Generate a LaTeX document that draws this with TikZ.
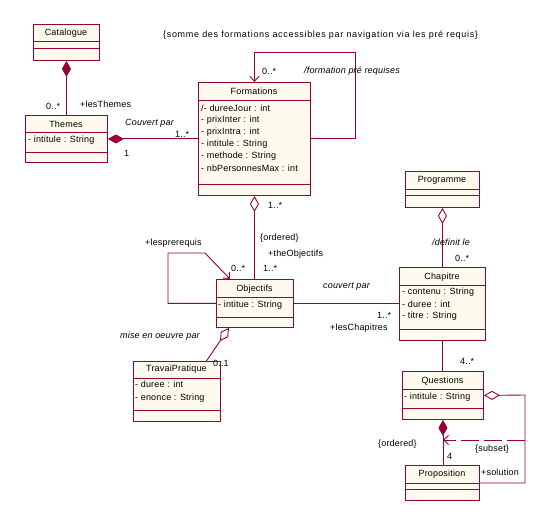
\documentclass[tikz,border=0pt]{standalone}
\usepackage{fontspec}
\setmainfont{Liberation Sans}[LetterSpace=2.0]
\usetikzlibrary{arrows.meta}
\definecolor{umlline}{RGB}{153,0,51}
\definecolor{umlfill}{RGB}{255,250,238}
\begin{document}
\begin{tikzpicture}[x=1pt,y=-1pt,
  font=\fontsize{9}{10}\selectfont,
  cls/.style={draw=umlline, fill=umlfill, line width=0.9pt, inner sep=0pt, anchor=north west},
  lbl/.style={inner sep=0pt, anchor=west, text=black},
  ttl/.style={inner sep=0pt, anchor=center, text=black},
  conn/.style={draw=umlline, line width=0.9pt},
  compo/.style={conn, {Diamond[length=16pt,width=9pt,fill=umlline]}-},
  aggr/.style={conn, {Diamond[open,length=16pt,width=9pt]}-},
  nav/.style={conn, -{Straight Barb[length=5pt,width=9pt]}},
  dep/.style={conn, dash pattern=on 18pt off 5pt, -{Straight Barb[length=5pt,width=9pt]}}
]
\useasboundingbox (0,0) rectangle (559,526);

% ---------- classes ----------
% Catalogue
\node[cls, minimum width=66pt, minimum height=36pt] (cat) at (33,24) {};
\node[ttl] (catT) at (66,33) {Catalogue};
\draw[conn] (cat.west |- 0,41) -- (cat.east |- 0,41);
\draw[conn] (cat.west |- 0,48) -- (cat.east |- 0,48);

% Themes
\node[cls, minimum width=82pt, minimum height=47pt] (th) at (25,115) {};
\node[ttl] (thT) at (66,124) {Themes};
\draw[conn] (th.west |- 0,132) -- (th.east |- 0,132);
\node[lbl] (thA) at (28,140) {- intitule : String};
\draw[conn] (th.west |- 0,152) -- (th.east |- 0,152);

% Formations
\node[cls, minimum width=112pt, minimum height=113pt] (fo) at (198,82) {};
\node[ttl] (foT) at (254,91) {Formations};
\draw[conn] (fo.west |- 0,100) -- (fo.east |- 0,100);
\node[lbl] (foA1) at (201,108) {/- dureeJour : int};
\node[lbl] (foA2) at (201,120) {- prixInter : int};
\node[lbl] (foA3) at (201,132) {- prixIntra : int};
\node[lbl] (foA4) at (201,144) {- intitule : String};
\node[lbl] (foA5) at (201,156) {- methode : String};
\node[lbl] (foA6) at (201,168) {- nbPersonnesMax : int};
\draw[conn] (fo.west |- 0,184) -- (fo.east |- 0,184);

% Programme
\node[cls, minimum width=74pt, minimum height=36pt] (pr) at (405,171) {};
\node[ttl] (prT) at (442,180) {Programme};
\draw[conn] (pr.west |- 0,189) -- (pr.east |- 0,189);
\draw[conn] (pr.west |- 0,195) -- (pr.east |- 0,195);

% Objectifs
\node[cls, minimum width=77pt, minimum height=48pt] (ob) at (216,279) {};
\node[ttl] (obT) at (254.5,289) {Objectifs};
\draw[conn] (ob.west |- 0,297) -- (ob.east |- 0,297);
\node[lbl] (obA) at (218,305) {- intitue : String};
\draw[conn] (ob.west |- 0,317) -- (ob.east |- 0,317);

% Chapitre
\node[cls, minimum width=86pt, minimum height=73pt] (ch) at (399,267) {};
\node[ttl] (chT) at (442,277) {Chapitre};
\draw[conn] (ch.west |- 0,285) -- (ch.east |- 0,285);
\node[lbl] (chA1) at (402,292) {- contenu : String};
\node[lbl] (chA2) at (402,304) {- duree : int};
\node[lbl] (chA3) at (402,316) {- titre : String};
\draw[conn] (ch.west |- 0,329) -- (ch.east |- 0,329);

% TravaiPratique
\node[cls, minimum width=87pt, minimum height=60pt] (tp) at (133,361) {};
\node[ttl] (tpT) at (176.5,369) {TravaiPratique};
\draw[conn] (tp.west |- 0,378) -- (tp.east |- 0,378);
\node[lbl] (tpA1) at (135,384) {- duree : int};
\node[lbl] (tpA2) at (135,398) {- enonce : String};
\draw[conn] (tp.west |- 0,410) -- (tp.east |- 0,410);

% Questions
\node[cls, minimum width=81pt, minimum height=48pt] (qu) at (402,371) {};
\node[ttl] (quT) at (442.5,381) {Questions};
\draw[conn] (qu.west |- 0,389) -- (qu.east |- 0,389);
\node[lbl] (quA) at (404,397) {- intitule : String};
\draw[conn] (qu.west |- 0,408) -- (qu.east |- 0,408);

% Proposition
\node[cls, minimum width=74pt, minimum height=35pt] (po) at (405,465) {};
\node[ttl] (poT) at (442,474) {Proposition};
\draw[conn] (po.west |- 0,483) -- (po.east |- 0,483);
\draw[conn] (po.west |- 0,489) -- (po.east |- 0,489);

% ---------- connectors ----------
\draw[compo] (cat.south) -- (th.north);
\draw[compo] (th.east) -- (th.east -| fo.west);
\draw[nav] (fo.east |- th.east) -| (355,52) -| (fo.north);
\draw[aggr] (fo.south) -- (fo.south |- ob.north);
\draw[nav] (ob.west) -| (168,253) -- (205,253) -- ([xshift=-25pt]ob.north);
\draw[conn] (ob.east) -- (ob.east -| ch.west);
\draw[aggr] ([xshift=-26pt]ob.south) -- ([xshift=29.5pt]tp.north);
\draw[aggr] (pr.south) -- (ch.north);
\draw[conn] (ch.south) -- (ch.south |- qu.north);
\draw[compo] (qu.south) -- (qu.south |- po.north);
\draw[aggr] (qu.east) -- (525,395) |- (po.east);
\coordinate (subS) at (525,440);
\draw[dep] (subS) -- (subS -| qu.south);

% ---------- labels ----------
\node[lbl] (cons) at (163,35) {\addfontfeature{LetterSpace=7.5}\{somme des formations accessibles par navigation via les pré requis\}};
\node[lbl] (m1) at (46,106) {0..*};
\node[lbl] (r1) at (80,104) {+lesThemes};
\node[lbl] (n1) at (125,123) {\itshape Couvert par};
\node[lbl] (m2) at (175,134) {1..*};
\node[lbl] (m3) at (124,153) {1};
\node[lbl] (m4) at (262,71) {0..*};
\node[lbl] (n2) at (304,71) {\itshape /formation pré requises};
\node[lbl] (m5) at (268,205) {1..*};
\node[lbl] (c1) at (260,238) {\{ordered\}};
\node[lbl] (r2) at (268,254) {+theObjectifs};
\node[lbl] (m6) at (263,268) {1..*};
\node[lbl] (m7) at (231,268) {0..*};
\node[lbl] (r3) at (145,243) {+lesprerequis};
\node[lbl] (n3) at (323,287) {\itshape couvert par};
\node[lbl] (m8) at (377,315) {1..*};
\node[lbl] (r4) at (330,328) {+lesChapitres};
\node[lbl] (n4) at (432,242) {\itshape /definit le};
\node[lbl] (m9) at (455,258) {0..*};
\node[lbl] (n5) at (120,336) {\itshape mise en oeuvre par};
\node[lbl] (m10) at (213,363) {0..1};
\node[lbl] (m11) at (460,361) {4..*};
\node[lbl] (c2) at (378,444) {\{ordered\}};
\node[lbl] (m12) at (447,456) {4};
\node[lbl] (r5) at (481,472) {+solution};
\node[lbl] (c3) at (475,449) {\{subset\}};
\end{tikzpicture}
\end{document}
